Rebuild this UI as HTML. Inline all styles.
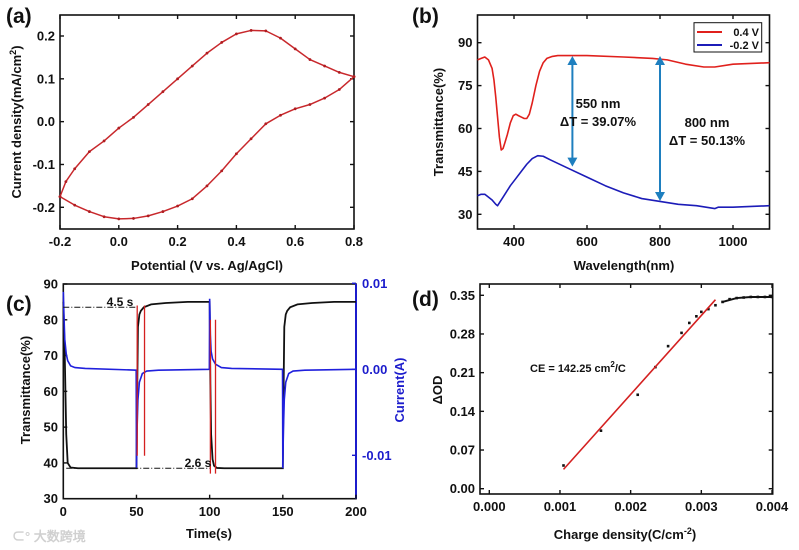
<!DOCTYPE html>
<html><head><meta charset="utf-8">
<style>
html,body{margin:0;padding:0;background:#fff;}
svg{display:block;font-family:"Liberation Sans",Arial,sans-serif;font-weight:bold;}
</style></head>
<body>
<svg id="fig" width="799" height="550" viewBox="0 0 799 550" xmlns="http://www.w3.org/2000/svg"></svg>
<script>
// ---------- Panel (a) data ----------
const cvFwdV = [-0.2,-0.18,-0.15,-0.1,-0.05,0,0.05,0.1,0.15,0.2,0.25,0.3,0.35,0.4,0.45,0.5,0.55,0.6,0.65,0.7,0.75,0.8];
const cvFwdI = [-0.175,-0.14,-0.11,-0.07,-0.045,-0.015,0.01,0.04,0.07,0.1,0.13,0.16,0.185,0.205,0.213,0.212,0.195,0.17,0.145,0.13,0.115,0.105];
const cvRevV = [0.8,0.75,0.7,0.65,0.6,0.55,0.5,0.45,0.4,0.35,0.3,0.25,0.2,0.15,0.1,0.05,0,-0.05,-0.1,-0.15,-0.2];
const cvRevI = [0.105,0.075,0.055,0.04,0.03,0.015,-0.005,-0.04,-0.075,-0.115,-0.15,-0.18,-0.197,-0.21,-0.22,-0.226,-0.227,-0.222,-0.21,-0.195,-0.175];
const aXTicks = [-0.2,0,0.2,0.4,0.6,0.8];
const aXLabels = ["-0.2","0.0","0.2","0.4","0.6","0.8"];
const aYTicks = [-0.2,-0.1,0,0.1,0.2];
const aYLabels = ["-0.2","-0.1","0.0","0.1","0.2"];
// ---------- Panel (b) data ----------
const redWl = [300,310,320,330,340,345,350,355,360,365,370,375,382,390,398,405,412,420,428,435,442,450,460,470,480,490,505,520,600,700,780,820,870,920,950,1000,1100];
const redT = [84,84.5,85,84,81,77,71,64,57,52.5,53,55,58,62,64.5,65,64.5,64,63.5,63.5,65,69,75,80,83,84.5,85.2,85.5,85.5,85,84.5,84,82.5,81.5,81.5,82.5,83];
const blueWl = [300,310,320,330,340,350,355,360,370,380,390,405,420,435,450,465,480,500,550,600,650,700,750,800,850,900,950,960,1000,1100];
const blueT = [36.5,37,37,36,35,33.5,33,34,36,38,40,42.5,45,47.5,49.5,50.5,50.3,49,46,43,40,37.5,35.5,34.5,33.5,33,32,32.5,32.5,33];
const bXTicks = [400,600,800,1000];
const bYTicks = [30,45,60,75,90];
// ---------- Panel (c) data ----------
const cTimes = [0,1,2,3,5,10,50,50.5,51,52,53,55,60,70,85,100,100.5,101,102,103,105,110,150,150.5,151,152,153,155,160,170,185,200];
const cTrans = [85,70,48,40,38.7,38.5,38.5,60,78,81.5,82.5,83.5,84.3,84.7,85,85,62,48,41,39.2,38.6,38.5,38.5,60,78,81.5,82.5,83.5,84.3,84.7,85,85];
const curTimes = [0,0.5,1,2,3,5,8,15,49.8,50,50.4,51,52,54,57,65,99.8,100,100.5,101,102,104,108,115,149.8,150,150.4,151,152,154,157,165,200];
const curVals = [0.009,0.006,0.0035,0.0018,0.001,0.0004,0.0002,0.0001,-0.0001,-0.0115,-0.007,-0.0035,-0.0015,-0.0005,-0.0002,-0.0001,0,0.0082,0.004,0.0021,0.0012,0.0006,0.0002,0.0001,0,-0.0115,-0.007,-0.0035,-0.0015,-0.0005,-0.0002,-0.0001,0];
const cXTicks = [0,50,100,150,200];
const cYTicks = [30,40,50,60,70,80,90];
const cY2Ticks = [-0.01,0,0.01];
const cY2Labels = ["-0.01","0.00","0.01"];
// ---------- Panel (d) data ----------
const dQ = [0.00105,0.00158,0.0021,0.00235,0.00253,0.00272,0.00283,0.00293,0.003,0.0031,0.0032,0.0033,0.0034,0.0035,0.0036,0.0037,0.0038,0.0039,0.004];
const dOD = [0.042,0.105,0.17,0.22,0.258,0.282,0.3,0.312,0.32,0.325,0.332,0.338,0.343,0.345,0.346,0.347,0.347,0.347,0.347];
const fitQ = [0.00105,0.0032];
const fitOD = [0.035,0.342];
const dXTicks = [0,0.001,0.002,0.003,0.004];
const dXLabels = ["0.000","0.001","0.002","0.003","0.004"];
const dYTicks = [0,0.07,0.14,0.21,0.28,0.35];
const dYLabels = ["0.00","0.07","0.14","0.21","0.28","0.35"];

const NS = "http://www.w3.org/2000/svg";
const svg = document.getElementById('fig');
function mk(tag, attrs, name, parent){
  const el = document.createElementNS(NS, tag);
  for (const k in attrs) el.setAttribute(k, attrs[k]);
  
  
  (parent||svg).appendChild(el);
  return el;
}
function txt(x,y,s,size,name,opts){
  opts = opts||{};
  const t = mk('text',{x:x,y:y,'font-size':size,'text-anchor':opts.anchor||'middle',fill:opts.fill||'#111'},name);
  if (opts.rot) t.setAttribute('transform','rotate(-90 '+x+' '+y+')');
  t.textContent = s;
  return t;
}
function lin(d0,d1,r0,r1){ return v => r0 + (v-d0)/(d1-d0)*(r1-r0); }
function pathOf(xs,ys,sx,sy){ return xs.map((v,i)=>(i?'L':'M')+sx(v).toFixed(2)+' '+sy(ys[i]).toFixed(2)).join(' '); }
function frame(x0,y0,x1,y1,name,color){
  mk('rect',{x:x0,y:y0,width:x1-x0,height:y1-y0,fill:'none',stroke:color||'#111','stroke-width':1.6},name);
}
function xTicks(ticks,labels,sx,yb,yt,name){
  ticks.forEach((t,i)=>{
    const x=sx(t);
    mk('line',{x1:x,y1:yb,x2:x,y2:yb-4,stroke:'#111','stroke-width':1.4},name+'-tick');
    mk('line',{x1:x,y1:yt,x2:x,y2:yt+4,stroke:'#111','stroke-width':1.4},name+'-tick-top');
    txt(x,yb+17,labels[i],13,name+'-label');
  });
}
function yTicks(ticks,labels,sy,xl,xr,name){
  ticks.forEach((t,i)=>{
    const y=sy(t);
    mk('line',{x1:xl,y1:y,x2:xl+4,y2:y,stroke:'#111','stroke-width':1.4},name+'-tick');
    mk('line',{x1:xr,y1:y,x2:xr-4,y2:y,stroke:'#111','stroke-width':1.4},name+'-tick-right');
    txt(xl-5,y+4.5,labels[i],13,name+'-label',{anchor:'end'});
  });
}

// ===== Panel (a) =====
(function(){
  const sx = lin(-0.2,0.8,60,354), sy = lin(-0.2,0.2,207.3,36);
  frame(60,15,354,229,'panel-a-plot-area');
  xTicks(aXTicks,aXLabels,sx,229,15,'a-x-axis');
  yTicks(aYTicks,aYLabels,sy,60,354,'a-y-axis');
  mk('path',{d:pathOf(cvFwdV,cvFwdI,sx,sy)+' '+pathOf(cvRevV,cvRevI,sx,sy).replace('M','L'),fill:'none',stroke:'#c8282c','stroke-width':1.5,'stroke-linejoin':'round'},'cv-curve');
  cvFwdV.concat(cvRevV).forEach((v,i)=>{
    const I = i<cvFwdV.length ? cvFwdI[i] : cvRevI[i-cvFwdV.length];
    mk('circle',{cx:sx(v),cy:sy(I),r:1.4,fill:'#b01c20'},'cv-point');
  });
  txt(6,23,'(a)',21,'panel-a-label',{anchor:'start'});
  txt(207,270,'Potential (V vs. Ag/AgCl)',13,'a-x-axis-title');
  const yt = txt(21,122,'Current density(mA/cm',13,'a-y-axis-title',{rot:true});
  const sup = document.createElementNS(NS,'tspan'); sup.setAttribute('dy','-5'); sup.setAttribute('font-size','9'); sup.textContent='2'; yt.appendChild(sup);
  const cl = document.createElementNS(NS,'tspan'); cl.setAttribute('dy','5'); cl.textContent=')'; yt.appendChild(cl);
})();

// ===== Panel (b) =====
(function(){
  const sx = lin(300,1100,477.5,769.5), sy = lin(30,90,214.3,42.7);
  frame(477.5,15,769.5,229,'panel-b-plot-area');
  xTicks(bXTicks,bXTicks.map(String),sx,229,15,'b-x-axis');
  yTicks(bYTicks,bYTicks.map(String),sy,477.5,769.5,'b-y-axis');
  mk('path',{d:pathOf(redWl,redT,sx,sy),fill:'none',stroke:'#e0201c','stroke-width':1.6,'stroke-linejoin':'round'},'series-0-4v');
  mk('path',{d:pathOf(blueWl,blueT,sx,sy),fill:'none',stroke:'#1c1cb8','stroke-width':1.6,'stroke-linejoin':'round'},'series-neg-0-2v');
  [[560,85,47],[800,85,35]].forEach((a,i)=>{
    const x=sx(a[0]), y1=sy(a[1]), y2=sy(a[2]);
    mk('line',{x1:x,y1:y1+6,x2:x,y2:y2-6,stroke:'#1e7fbf','stroke-width':2},'delta-arrow');
    mk('polygon',{points:(x-5)+','+(y1+8)+' '+(x+5)+','+(y1+8)+' '+x+','+(y1-1)},'arrow-head');
    svg.lastChild.setAttribute('fill','#1e7fbf');
    mk('polygon',{points:(x-5)+','+(y2-8)+' '+(x+5)+','+(y2-8)+' '+x+','+(y2+1)},'arrow-head');
    svg.lastChild.setAttribute('fill','#1e7fbf');
  });
  txt(598,108,'550 nm',13,'annotation-550nm');
  txt(598,126,'ΔT = 39.07%',13,'annotation-550-delta');
  txt(707,127,'800 nm',13,'annotation-800nm');
  txt(707,145,'ΔT = 50.13%',13,'annotation-800-delta');
  mk('rect',{x:694,y:22.7,width:67.7,height:29.3,fill:'#fff',stroke:'#111','stroke-width':1},'legend');
  mk('line',{x1:697,y1:32,x2:722,y2:32,stroke:'#e0201c','stroke-width':2},'legend-swatch-0-4v');
  txt(759,36,'0.4 V',11,'legend-entry-0-4v',{anchor:'end'});
  mk('line',{x1:697,y1:45,x2:722,y2:45,stroke:'#1c1cb8','stroke-width':2},'legend-swatch-neg-0-2v');
  txt(759,49,'-0.2 V',11,'legend-entry-neg-0-2v',{anchor:'end'});
  txt(412,23,'(b)',21,'panel-b-label',{anchor:'start'});
  txt(624,270,'Wavelength(nm)',13,'b-x-axis-title');
  txt(443,122,'Transmittance(%)',13,'b-y-axis-title',{rot:true});
})();

// ===== Panel (c) =====
(function(){
  const sx = lin(0,200,63.3,356), sy = lin(30,90,498.7,284), sy2 = lin(-0.01,0.01,455.3,283.3);
  frame(63.3,284,356,498.7,'panel-c-plot-area');
  mk('line',{x1:356,y1:284,x2:356,y2:498.7,stroke:'#1c1ccc','stroke-width':2},'c-right-axis-line');
  cXTicks.forEach(t=>{
    const x=sx(t);
    mk('line',{x1:x,y1:498.7,x2:x,y2:494.7,stroke:'#111','stroke-width':1.4},'c-x-axis-tick');
    txt(x,516,String(t),13,'c-x-axis-label');
  });
  cYTicks.forEach(t=>{
    const y=sy(t);
    mk('line',{x1:63.3,y1:y,x2:67.3,y2:y,stroke:'#111','stroke-width':1.4},'c-y-axis-tick');
    txt(58,y+4.5,String(t),13,'c-y-axis-label',{anchor:'end'});
  });
  cY2Ticks.forEach((t,i)=>{
    const y=sy2(t);
    mk('line',{x1:356,y1:y,x2:352,y2:y,stroke:'#1c1ccc','stroke-width':1.4},'c-y2-axis-tick');
    txt(362,y+4.5,cY2Labels[i],13,'c-y2-axis-label',{anchor:'start',fill:'#1c1ccc'});
  });
  mk('path',{d:pathOf(cTimes,cTrans,sx,sy),fill:'none',stroke:'#111','stroke-width':1.8},'transmittance-series');
  mk('path',{d:pathOf(curTimes,curVals,sx,sy2),fill:'none',stroke:'#2020dd','stroke-width':1.6},'current-series');
  mk('line',{x1:sx(0),y1:sy(83.5),x2:sx(50),y2:sy(83.5),stroke:'#111','stroke-width':1,'stroke-dasharray':'6 2 1 2'},'bleach-level-line');
  mk('line',{x1:sx(2),y1:sy(38.5),x2:sx(100),y2:sy(38.5),stroke:'#111','stroke-width':1,'stroke-dasharray':'6 2 1 2'},'color-level-line');
  [[50.5,84,42],[55.5,84,42],[100.5,80,37],[104,80,37]].forEach(r=>{
    mk('line',{x1:sx(r[0]),y1:sy(r[1]),x2:sx(r[0]),y2:sy(r[2]),stroke:'#d42020','stroke-width':1.3},'response-time-marker');
  });
  txt(120,306,'4.5 s',12,'bleach-time-label');
  txt(198,467,'2.6 s',12,'color-time-label');
  txt(6,311,'(c)',21,'panel-c-label',{anchor:'start'});
  txt(209,538,'Time(s)',13,'c-x-axis-title');
  txt(30,390,'Transmittance(%)',13,'c-y-axis-title',{rot:true});
  txt(404,390,'Current(A)',13,'c-y2-axis-title',{rot:true,fill:'#1c1ccc'});
  txt(12,541,'⊂° 大数跨境',13,'watermark',{anchor:'start',fill:'#d0d0d0'});
})();

// ===== Panel (d) =====
(function(){
  const sx = lin(0,0.004,489.3,772), sy = lin(0,0.35,488.7,295.3);
  frame(480,284,772.7,494,'panel-d-plot-area');
  xTicks(dXTicks,dXLabels,sx,494,284,'d-x-axis');
  yTicks(dYTicks,dYLabels,sy,480,772.7,'d-y-axis');
  dQ.forEach((q,i)=>{
    mk('rect',{x:sx(q)-1.3,y:sy(dOD[i])-1.3,width:2.6,height:2.6,fill:'#111'},'data-point');
  });
  mk('path',{d:pathOf([0.0033,0.0035,0.0037,0.004],[0.338,0.345,0.347,0.347],sx,sy),fill:'none',stroke:'#111','stroke-width':2},'saturation-curve');
  mk('path',{d:pathOf(fitQ,fitOD,sx,sy),fill:'none',stroke:'#d42020','stroke-width':1.6},'linear-fit');
  const ce = txt(530,372,'CE = 142.25 cm',11,'ce-annotation',{anchor:'start'});
  const s2 = document.createElementNS(NS,'tspan'); s2.setAttribute('dy','-5'); s2.setAttribute('font-size','8'); s2.textContent='2'; ce.appendChild(s2);
  const s3 = document.createElementNS(NS,'tspan'); s3.setAttribute('dy','5'); s3.textContent='/C'; ce.appendChild(s3);
  txt(412,306,'(d)',21,'panel-d-label',{anchor:'start'});
  const xt = txt(625,539,'Charge density(C/cm',13,'d-x-axis-title');
  const s4 = document.createElementNS(NS,'tspan'); s4.setAttribute('dy','-5'); s4.setAttribute('font-size','9'); s4.textContent='-2'; xt.appendChild(s4);
  const s5 = document.createElementNS(NS,'tspan'); s5.setAttribute('dy','5'); s5.textContent=')'; xt.appendChild(s5);
  txt(442,390,'ΔOD',13,'d-y-axis-title',{rot:true});
})();
</script>
</body></html>
